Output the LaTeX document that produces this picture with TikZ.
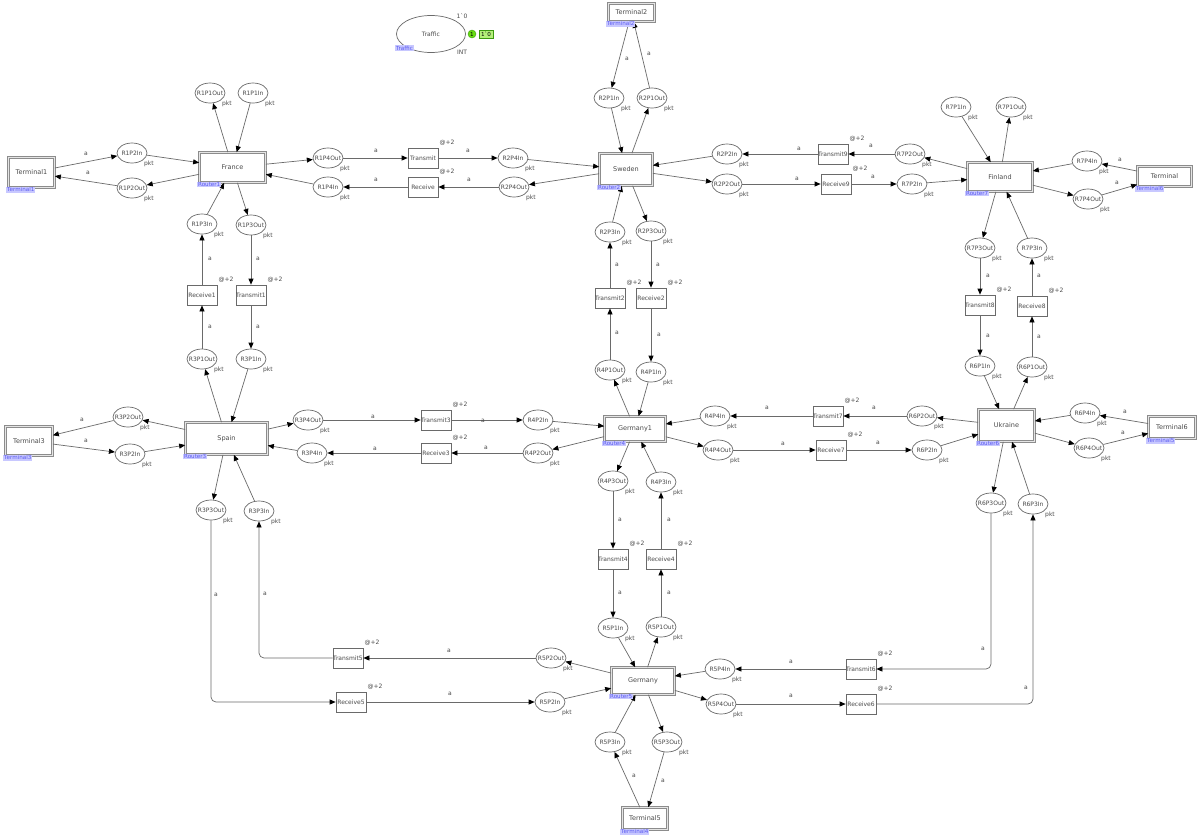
\documentclass[tikz,border=0pt]{standalone}
\usepackage{fontspec}
\setmainfont{DejaVu Sans}
\usetikzlibrary{arrows.meta,shapes.geometric}
\definecolor{ln}{HTML}{6A6A6A}
\definecolor{tx}{HTML}{4A4A4A}
\definecolor{tagfill}{HTML}{C8C8FF}
\definecolor{tagtext}{HTML}{5A5AF0}
\definecolor{grn}{HTML}{66DD11}
\definecolor{lgrn}{HTML}{B4F07A}
\definecolor{dgrn}{HTML}{3C9A10}
\newcommand\pnfont{\fontsize{6}{7}\selectfont}
\newcommand\rtfont{\fontsize{6.5}{7.5}\selectfont}
\newcommand\tgfont{\fontsize{5.6}{6.5}\selectfont}
\newcommand\mkplace[2]{\node[place] (#1) at (#2) {\makebox[0pt]{#1}};
  \node[typ] (#1-type) at ([shift={(17,11)}]#1.center) {pkt};}
\newcommand\mktrans[2]{\node[trans] (#1) at (#2) {\makebox[0pt]{#1}};
  \node[typ] (#1-time) at ([shift={(24,-15)}]#1.center) {@+2};}
\newcommand\mktag[2]{\node[tag, anchor=north west] (#1-tag) at ([shift={(-2,-1)}]#1.south west) {#2};}
\begin{document}
\begin{tikzpicture}[x=1pt,y=-1pt,
  place/.style={ellipse, draw=ln, line width=0.7pt, minimum width=30, minimum height=20, inner sep=0pt, font=\pnfont, text=tx, fill=white},
  trans/.style={rectangle, draw=ln, line width=0.7pt, minimum width=30, minimum height=20, inner sep=0pt, font=\pnfont, text=tx, fill=white},
  router/.style={rectangle, draw=black!45, line width=0.7pt, double=black!10, double distance=1.6pt, inner sep=1pt, font=\rtfont, text=tx, fill=white},
  typ/.style={font=\pnfont, text=tx, inner sep=0pt},
  lab/.style={font=\pnfont, text=tx, inner sep=0pt},
  tag/.style={fill=tagfill, text=tagtext, font=\tgfont, inner xsep=0.8pt, inner ysep=0.6pt},
  arc/.style={draw=ln, line width=0.7pt, -{Triangle[length=6pt,width=5pt,color=black]}},
  barc/.style={arc, rounded corners=5pt}
]
\fill[white] (0,0) rectangle (1200,839);
\useasboundingbox (0,0) rectangle (1200,839);

% Traffic place
\node[place, minimum width=69, minimum height=37] (Traffic) at (431,34) {\makebox[0pt]{Traffic}};
\node[typ] (Traffic-init) at (462,16) {1\textasciigrave 0};
\node[typ] (Traffic-type) at (462,52) {INT};
\node[circle, fill=grn, draw=dgrn, line width=0.4pt, minimum size=8, inner sep=0pt, font=\tgfont] (Traffic-count) at (472,34) {1};
\node[rectangle, fill=lgrn, draw=dgrn, line width=0.4pt, minimum width=14, minimum height=8, inner sep=0pt, font=\tgfont] (Traffic-mark) at (486,34) {1\textasciigrave 0};
\node[tag, anchor=north west] (Traffic-tag) at (395,45) {Traffic};

% Routers and terminals
\node[router, minimum width=66, minimum height=30] (France) at (232.5,167.5) {France};
\node[router, minimum width=53, minimum height=32] (Sweden) at (626,169.5) {Sweden};
\node[router, minimum width=65, minimum height=29] (Finland) at (1000,177) {Finland};
\node[router, minimum width=82, minimum height=32] (Spain) at (226.5,438.5) {Spain};
\node[router, minimum width=61, minimum height=25] (Germany1) at (635,429) {Germany1};
\node[router, minimum width=56, minimum height=32] (Ukraine) at (1006.5,425.5) {Ukraine};
\node[router, minimum width=63, minimum height=27] (Germany) at (643,681) {Germany};
\node[router, minimum width=46, minimum height=30] (Terminal1) at (31.5,172.5) {Terminal1};
\node[router, minimum width=46, minimum height=18] (Terminal2) at (631.5,12.5) {Terminal2};
\node[router, minimum width=54, minimum height=20] (Terminal) at (1164.5,176.5) {Terminal};
\node[router, minimum width=47, minimum height=29] (Terminal3) at (29,441) {Terminal3};
\node[router, minimum width=47, minimum height=22] (Terminal6) at (1172,427.5) {Terminal6};
\node[router, minimum width=45, minimum height=22] (Terminal5) at (645,818.5) {Terminal5};

% Places
\mkplace{R1P1Out}{210,93}
\mkplace{R1P1In}{253,93}
\mkplace{R1P2In}{132,153}
\mkplace{R1P2Out}{132,188}
\mkplace{R1P3In}{202,224}
\mkplace{R1P3Out}{251,225}
\mkplace{R1P4Out}{328,158}
\mkplace{R1P4In}{328,187}
\mkplace{R2P1In}{609,98}
\mkplace{R2P1Out}{652,98}
\mkplace{R2P4In}{513,158}
\mkplace{R2P4Out}{514,187}
\mkplace{R2P2In}{727,154}
\mkplace{R2P2Out}{727,184}
\mkplace{R2P3In}{610,232}
\mkplace{R2P3Out}{651,231}
\mkplace{R7P1In}{956,107}
\mkplace{R7P1Out}{1011,107}
\mkplace{R7P2Out}{910,154}
\mkplace{R7P2In}{912,184}
\mkplace{R7P4In}{1087,161}
\mkplace{R7P4Out}{1088,199}
\mkplace{R7P3Out}{980,248}
\mkplace{R7P3In}{1032,248}
\mkplace{R3P1Out}{202,359}
\mkplace{R3P1In}{251,359}
\mkplace{R3P2Out}{128,417}
\mkplace{R3P2In}{130,454}
\mkplace{R3P4Out}{308,420}
\mkplace{R3P4In}{312,453}
\mkplace{R3P3Out}{211,510}
\mkplace{R3P3In}{259,511}
\mkplace{R4P1Out}{610,370}
\mkplace{R4P1In}{651,372}
\mkplace{R4P2In}{538,420}
\mkplace{R4P2Out}{538,453}
\mkplace{R4P4In}{715,416}
\mkplace{R4P4Out}{718,450}
\mkplace{R4P3Out}{613,481}
\mkplace{R4P3In}{661,482}
\mkplace{R6P1In}{980,366}
\mkplace{R6P1Out}{1032,367}
\mkplace{R6P2Out}{922,416}
\mkplace{R6P2In}{927,450}
\mkplace{R6P4In}{1085,413}
\mkplace{R6P4Out}{1089,448}
\mkplace{R6P3Out}{991,503}
\mkplace{R6P3In}{1033,504}
\mkplace{R5P1In}{613,628}
\mkplace{R5P1Out}{661,627}
\mkplace{R5P2Out}{551,658}
\mkplace{R5P2In}{550,702}
\mkplace{R5P4In}{720,669}
\mkplace{R5P4Out}{721,704}
\mkplace{R5P3In}{610,742}
\mkplace{R5P3Out}{667,742}

% Transitions
\mktrans{Transmit}{423,158}
\mktrans{Receive}{423,187}
\mktrans{Receive1}{202,295}
\mktrans{Transmit1}{251,295}
\mktrans{Transmit9}{833,154}
\mktrans{Receive9}{836,184}
\mktrans{Transmit2}{610,298}
\mktrans{Receive2}{651,298}
\mktrans{Transmit8}{980,305}
\mktrans{Receive8}{1032,306}
\mktrans{Transmit3}{436,420}
\mktrans{Receive3}{436,453}
\mktrans{Transmit7}{828,416}
\mktrans{Receive7}{831,450}
\mktrans{Transmit4}{613,559}
\mktrans{Receive4}{661,559}
\mktrans{Transmit5}{348,658}
\mktrans{Receive5}{351,702}
\mktrans{Transmit6}{861,669}
\mktrans{Receive6}{861,704}

% Router <-> port places
\draw[arc] (France) -- (R1P1Out);
\draw[arc] (R1P1In) -- (France);
\draw[arc] (R1P2In) -- (France);
\draw[arc] (France) -- (R1P2Out);
\draw[arc] (R1P3In) -- (France);
\draw[arc] (France) -- (R1P3Out);
\draw[arc] (France) -- (R1P4Out);
\draw[arc] (R1P4In) -- (France);

\draw[arc] (R2P1In) -- (Sweden);
\draw[arc] (Sweden) -- (R2P1Out);
\draw[arc] (R2P4In) -- (Sweden);
\draw[arc] (Sweden) -- (R2P4Out);
\draw[arc] (R2P2In) -- (Sweden);
\draw[arc] (Sweden) -- (R2P2Out);
\draw[arc] (R2P3In) -- (Sweden);
\draw[arc] (Sweden) -- (R2P3Out);

\draw[arc] (R7P1In) -- (Finland);
\draw[arc] (Finland) -- (R7P1Out);
\draw[arc] (Finland) -- (R7P2Out);
\draw[arc] (R7P2In) -- (Finland);
\draw[arc] (R7P4In) -- (Finland);
\draw[arc] (Finland) -- (R7P4Out);
\draw[arc] (Finland) -- (R7P3Out);
\draw[arc] (R7P3In) -- (Finland);

\draw[arc] (Spain) -- (R3P1Out);
\draw[arc] (R3P1In) -- (Spain);
\draw[arc] (Spain) -- (R3P2Out);
\draw[arc] (R3P2In) -- (Spain);
\draw[arc] (Spain) -- (R3P4Out);
\draw[arc] (R3P4In) -- (Spain);
\draw[arc] (Spain) -- (R3P3Out);
\draw[arc] (R3P3In) -- (Spain);

\draw[arc] (Germany1) -- (R4P1Out);
\draw[arc] (R4P1In) -- (Germany1);
\draw[arc] (R4P2In) -- (Germany1);
\draw[arc] (Germany1) -- (R4P2Out);
\draw[arc] (R4P4In) -- (Germany1);
\draw[arc] (Germany1) -- (R4P4Out);
\draw[arc] (Germany1) -- (R4P3Out);
\draw[arc] (R4P3In) -- (Germany1);

\draw[arc] (R6P1In) -- (Ukraine);
\draw[arc] (Ukraine) -- (R6P1Out);
\draw[arc] (Ukraine) -- (R6P2Out);
\draw[arc] (R6P2In) -- (Ukraine);
\draw[arc] (R6P4In) -- (Ukraine);
\draw[arc] (Ukraine) -- (R6P4Out);
\draw[arc] (Ukraine) -- (R6P3Out);
\draw[arc] (R6P3In) -- (Ukraine);

\draw[arc] (R5P1In) -- (Germany);
\draw[arc] (Germany) -- (R5P1Out);
\draw[arc] (Germany) -- (R5P2Out);
\draw[arc] (R5P2In) -- (Germany);
\draw[arc] (R5P4In) -- (Germany);
\draw[arc] (Germany) -- (R5P4Out);
\draw[arc] (R5P3In) -- (Germany);
\draw[arc] (Germany) -- (R5P3Out);

% Terminal arcs
\draw[arc] (Terminal1) -- (R1P2In) node[lab] at (86,154) {a};
\draw[arc] (R1P2Out) -- (Terminal1) node[lab] at (88,173) {a};
\draw[arc] (Terminal2) -- (R2P1In) node[lab] at (627,59) {a};
\draw[arc] (R2P1Out) -- (Terminal2) node[lab] at (649,54) {a};
\draw[arc] (Terminal) -- (R7P4In) node[lab] at (1120,160) {a};
\draw[arc] (R7P4Out) -- (Terminal) node[lab] at (1117,183) {a};
\draw[arc] (R3P2Out) -- (Terminal3) node[lab] at (82,420) {a};
\draw[arc] (Terminal3) -- (R3P2In) node[lab] at (86,441) {a};
\draw[arc] (Terminal6) -- (R6P4In) node[lab] at (1125,412) {a};
\draw[arc] (R6P4Out) -- (Terminal6) node[lab] at (1123,433) {a};
\draw[arc] (Terminal5) -- (R5P3In) node[lab] at (634,776) {a};
\draw[arc] (R5P3Out) -- (Terminal5) node[lab] at (663,781) {a};

% Links
\draw[arc] (R1P3Out) -- (Transmit1) node[lab] at (258,259) {a};
\draw[arc] (Receive1) -- (R1P3In) node[lab] at (210,259) {a};
\draw[arc] (R3P1Out) -- (Receive1) node[lab] at (210,327) {a};
\draw[arc] (Transmit1) -- (R3P1In) node[lab] at (258,327) {a};

\draw[arc] (R1P4Out) -- (Transmit) node[lab] at (376,151) {a};
\draw[arc] (Transmit) -- (R2P4In) node[lab] at (468,151) {a};
\draw[arc] (R2P4Out) -- (Receive) node[lab] at (469,180) {a};
\draw[arc] (Receive) -- (R1P4In) node[lab] at (376,180) {a};

\draw[arc] (R7P2Out) -- (Transmit9) node[lab] at (871,146) {a};
\draw[arc] (Transmit9) -- (R2P2In) node[lab] at (799,149) {a};
\draw[arc] (R2P2Out) -- (Receive9) node[lab] at (797,179) {a};
\draw[arc] (Receive9) -- (R7P2In) node[lab] at (873,177) {a};

\draw[arc] (Transmit2) -- (R2P3In) node[lab] at (617,265) {a};
\draw[arc] (R2P3Out) -- (Receive2) node[lab] at (658,265) {a};
\draw[arc] (R4P1Out) -- (Transmit2) node[lab] at (617,333) {a};
\draw[arc] (Receive2) -- (R4P1In) node[lab] at (659,335) {a};

\draw[arc] (R7P3Out) -- (Transmit8) node[lab] at (988,276) {a};
\draw[arc] (Receive8) -- (R7P3In) node[lab] at (1039,276) {a};
\draw[arc] (Transmit8) -- (R6P1In) node[lab] at (988,336) {a};
\draw[arc] (R6P1Out) -- (Receive8) node[lab] at (1039,337) {a};

\draw[arc] (R3P4Out) -- (Transmit3) node[lab] at (373,417) {a};
\draw[arc] (Transmit3) -- (R4P2In) node[lab] at (483,421) {a};
\draw[arc] (R4P2Out) -- (Receive3) node[lab] at (486,448) {a};
\draw[arc] (Receive3) -- (R3P4In) node[lab] at (375,449) {a};

\draw[arc] (R6P2Out) -- (Transmit7) node[lab] at (874,408) {a};
\draw[arc] (Transmit7) -- (R4P4In) node[lab] at (767,408) {a};
\draw[arc] (R4P4Out) -- (Receive7) node[lab] at (783,444) {a};
\draw[arc] (Receive7) -- (R6P2In) node[lab] at (878,443) {a};

\draw[arc] (R4P3Out) -- (Transmit4) node[lab] at (620,520) {a};
\draw[arc] (Receive4) -- (R4P3In) node[lab] at (669,520) {a};
\draw[arc] (Transmit4) -- (R5P1In) node[lab] at (620,593) {a};
\draw[arc] (R5P1Out) -- (Receive4) node[lab] at (669,593) {a};

\draw[arc] (R5P2Out) -- (Transmit5) node[lab] at (449,651) {a};
\draw[arc] (Receive5) -- (R5P2In) node[lab] at (450,694) {a};
\draw[barc] (Transmit5) -| (R3P3In) node[lab] at (265,594) {a};
\draw[barc] (R3P3Out) |- (Receive5) node[lab] at (216,595) {a};

\draw[barc] (R6P3Out) |- (Transmit6) node[lab] at (983,649) {a};
\draw[arc] (Transmit6) -- (R5P4In) node[lab] at (791,662) {a};
\draw[arc] (R5P4Out) -- (Receive6) node[lab] at (791,696) {a};
\draw[barc] (Receive6) -| (R6P3In) node[lab] at (1026,688) {a};

% Tags
\mktag{France}{Router1}
\mktag{Sweden}{Router2}
\mktag{Finland}{Router7}
\mktag{Spain}{Router3}
\mktag{Germany1}{Router4}
\mktag{Ukraine}{Router6}
\mktag{Germany}{Router5}
\mktag{Terminal1}{Terminal1}
\mktag{Terminal2}{Terminal2}
\mktag{Terminal}{Terminal6}
\mktag{Terminal3}{Terminal3}
\mktag{Terminal6}{Terminal5}
\mktag{Terminal5}{Terminal4}
\end{tikzpicture}
\end{document}
